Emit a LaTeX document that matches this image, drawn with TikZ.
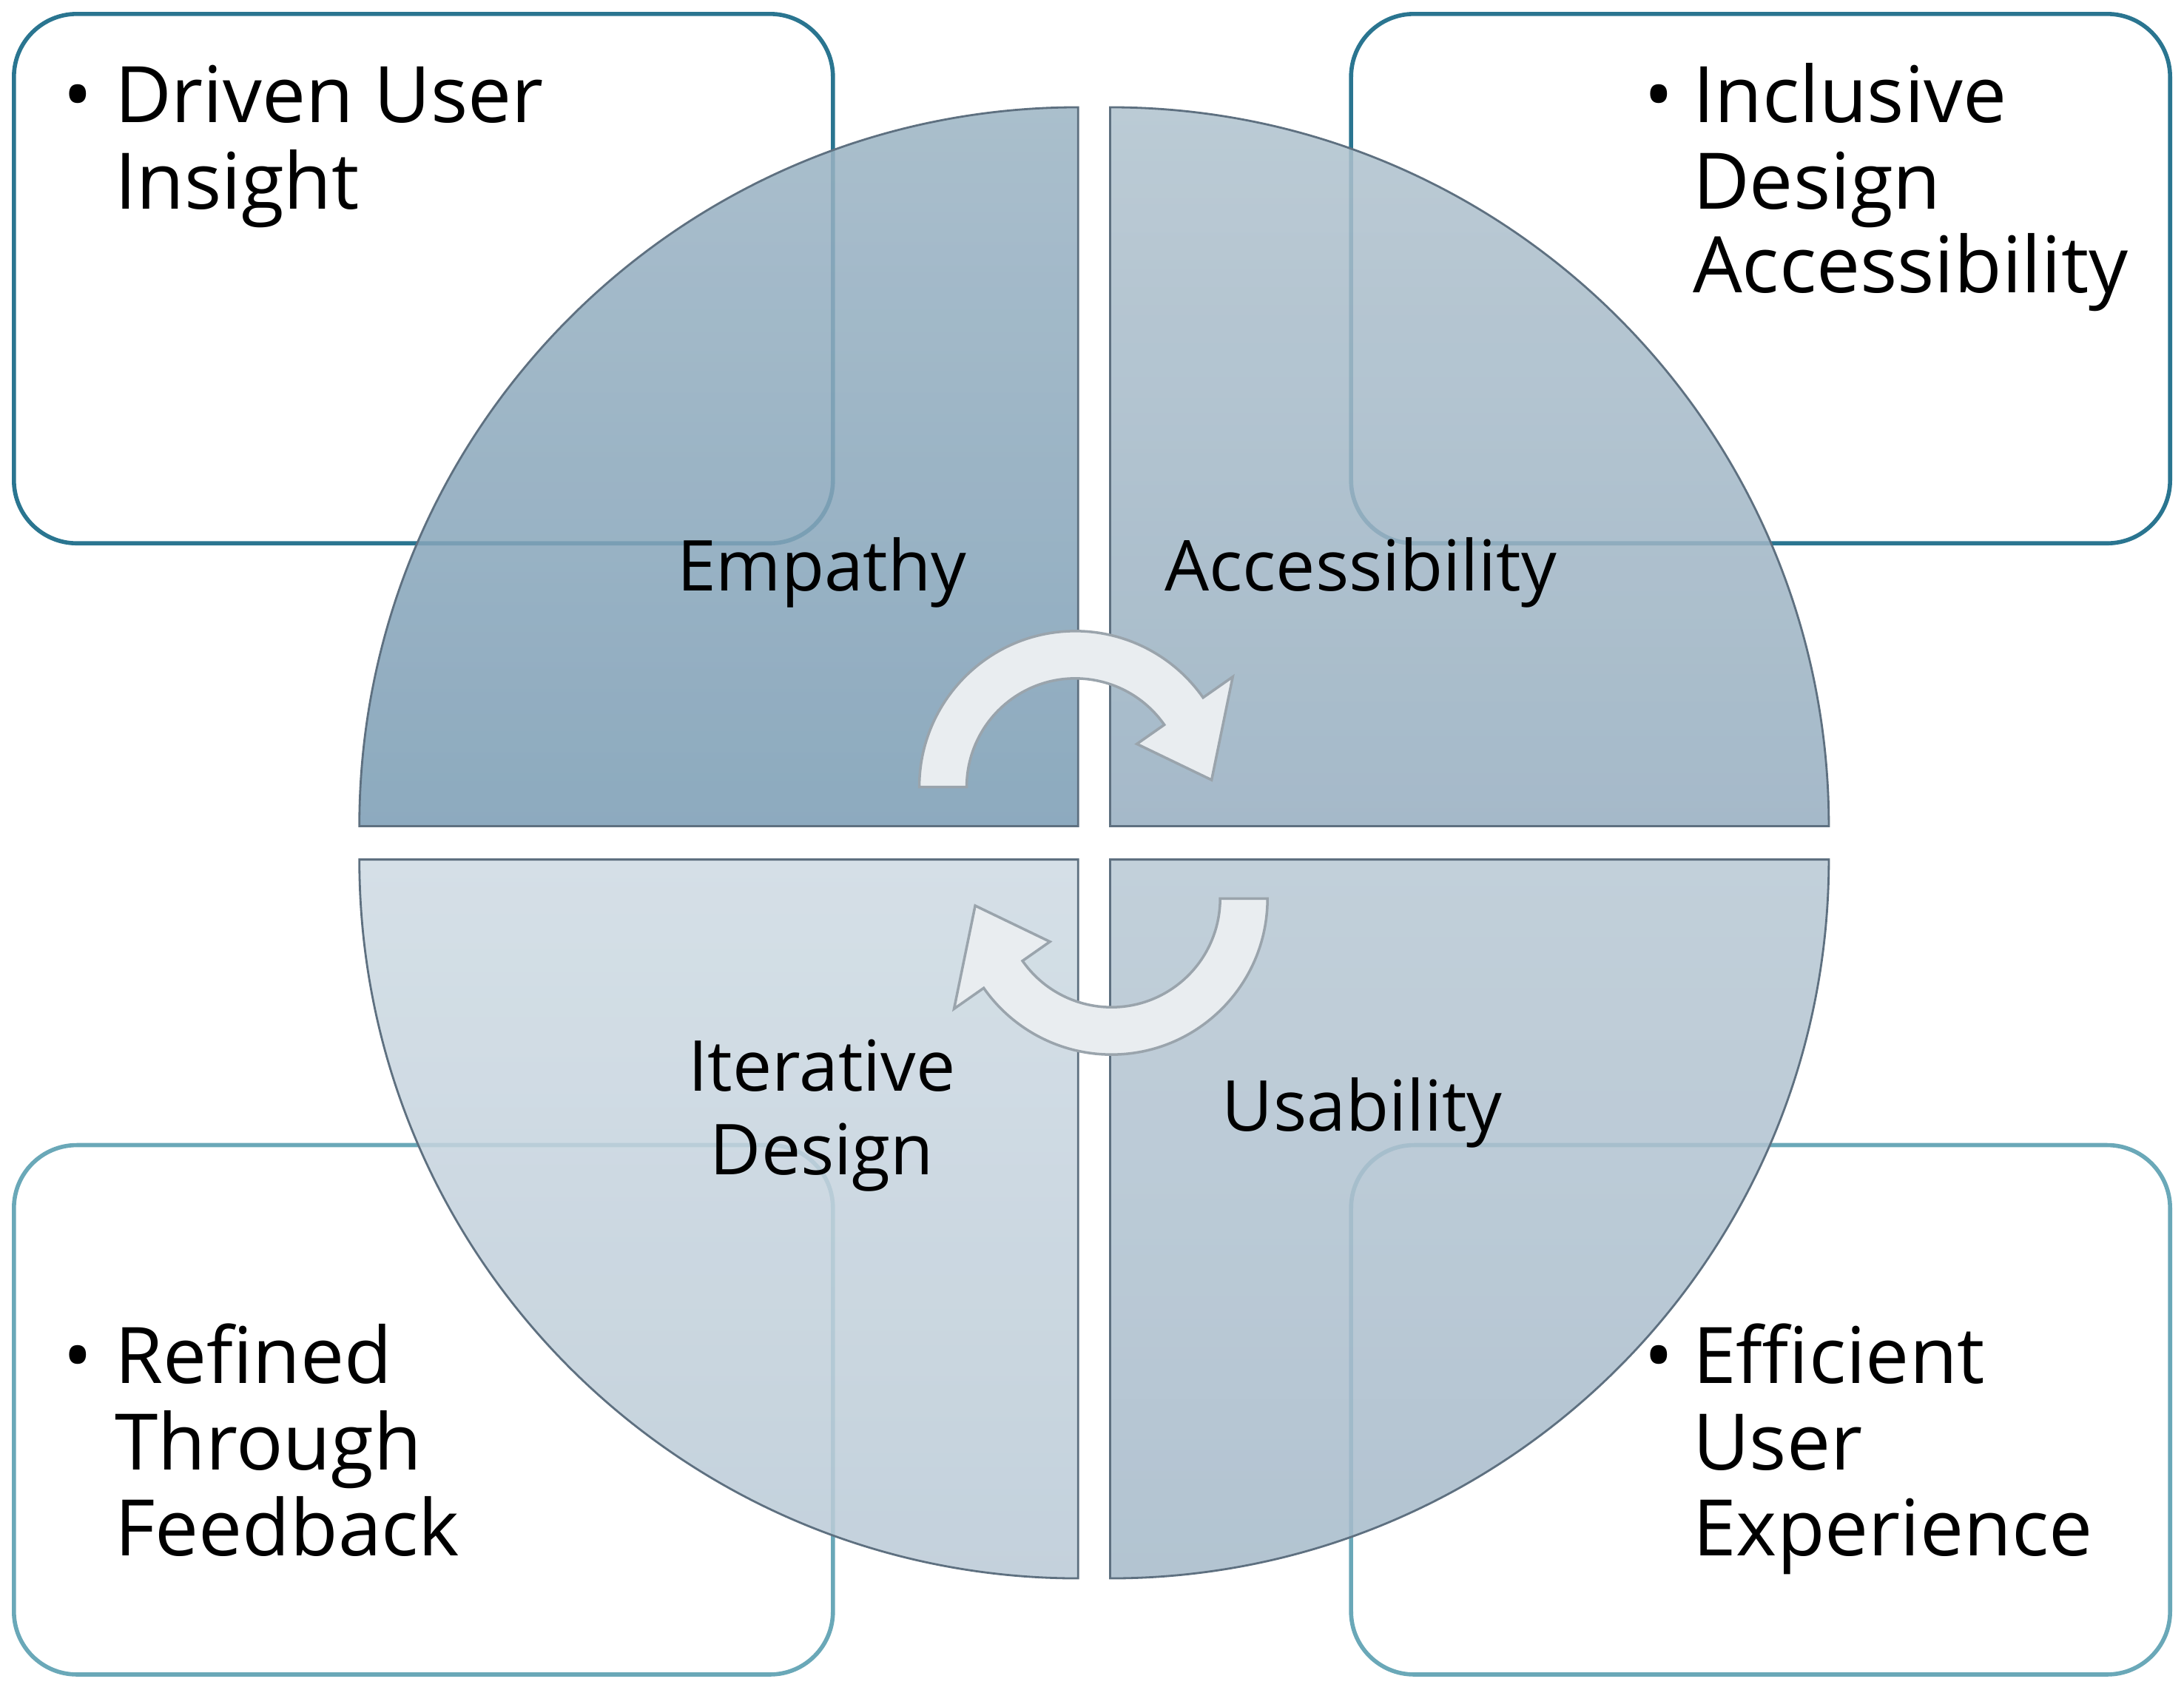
\documentclass[tikz,border=0pt]{standalone}
\usepackage{fontspec}
\setmainfont{Open Sans}
\usetikzlibrary{calc}
\definecolor{boxA}{HTML}{2A7590}
\definecolor{boxB}{HTML}{6AA8B8}
\definecolor{qedge}{HTML}{5E7080}
\definecolor{arrfill}{HTML}{E9EDF0}
\definecolor{arredge}{HTML}{9AA4AC}
\begin{document}
\begin{tikzpicture}[x=0.01883cm,y=-0.01883cm,
  box/.style={rounded corners=0.85cm,line width=1.6pt},
  quad/.style={draw=qedge,line width=0.8pt,fill opacity=0.86},
  big/.style={font=\fontsize{30}{34}\selectfont,inner sep=0pt,anchor=base west},
  lab/.style={font=\fontsize{27}{31}\selectfont,inner sep=0pt,anchor=base},
  carrow/.style={fill=arrfill,draw=arredge,line width=1pt}]
\useasboundingbox (0,0) rectangle (1568,1215);
% boxes
\draw[box,draw=boxA] (10,10) rectangle (598,390);
\draw[box,draw=boxA] (970,10) rectangle (1558,390);
\draw[box,draw=boxB] (10,822) rectangle (598,1202);
\draw[box,draw=boxB] (970,822) rectangle (1558,1202);
% quadrants
\shade[quad,top color={rgb,255:red,156;green,180;blue,196},bottom color={rgb,255:red,122;green,156;blue,180}]
  (774,593) -- (258,593) arc[start angle=180,end angle=270,radius=516] -- cycle;
\shade[quad,top color={rgb,255:red,176;green,194;blue,206},bottom color={rgb,255:red,150;green,174;blue,192}]
  (797,593) -- (797,77) arc[start angle=270,end angle=360,radius=516] -- cycle;
\shade[quad,top color={rgb,255:red,184;green,200;blue,212},bottom color={rgb,255:red,166;green,186;blue,202}]
  (797,617) -- (1313,617) arc[start angle=0,end angle=90,radius=516] -- cycle;
\shade[quad,top color={rgb,255:red,206;green,218;blue,227},bottom color={rgb,255:red,186;green,202;blue,214}]
  (774,617) -- (774,1133) arc[start angle=90,end angle=180,radius=516] -- cycle;
% circular arrows
\coordinate (C1) at (772,565);
\coordinate (C2) at (798,645);
\draw[carrow] ($(C1)+(180:112)$) arc[start angle=180,end angle=325,radius=112]
  -- ($(C1)+(325:138)$) -- ($(C1)+(357:98)$) -- ($(C1)+(325:54)$) -- ($(C1)+(325:78)$)
  arc[start angle=325,end angle=180,radius=78] -- cycle;
\draw[carrow] ($(C2)+(0:112)$) arc[start angle=0,end angle=145,radius=112]
  -- ($(C2)+(145:138)$) -- ($(C2)+(177:98)$) -- ($(C2)+(145:54)$) -- ($(C2)+(145:78)$)
  arc[start angle=145,end angle=0,radius=78] -- cycle;
% quadrant labels
\node[lab] (e) at (590,424) {Empathy};
\node[lab] (a) at (977,424) {Accessibility};
\node[lab] (i1) at (590,783) {Iterative};
\node[lab] (i2) at (590,843) {Design};
\node[lab] (u) at (978,812) {Usability};
% box texts
\node[big,anchor=base] (b1) at (56,88) {•};
\node[big] (t11) at (82,88) {Driven User};
\node[big] (t12) at (82,150) {Insight};
\node[big,anchor=base] (b2) at (1191,88) {•};
\node[big] (t21) at (1215,88) {Inclusive};
\node[big] (t22) at (1215,150) {Design};
\node[big] (t23) at (1215,210) {Accessibility};
\node[big,anchor=base] (b3) at (56,993) {•};
\node[big] (t31) at (82,993) {Refined};
\node[big] (t32) at (82,1055) {Through};
\node[big] (t33) at (82,1117) {Feedback};
\node[big,anchor=base] (b4) at (1191,993) {•};
\node[big] (t41) at (1215,993) {Efficient};
\node[big] (t42) at (1215,1055) {User};
\node[big] (t43) at (1215,1117) {Experience};
\end{tikzpicture}
\end{document}
